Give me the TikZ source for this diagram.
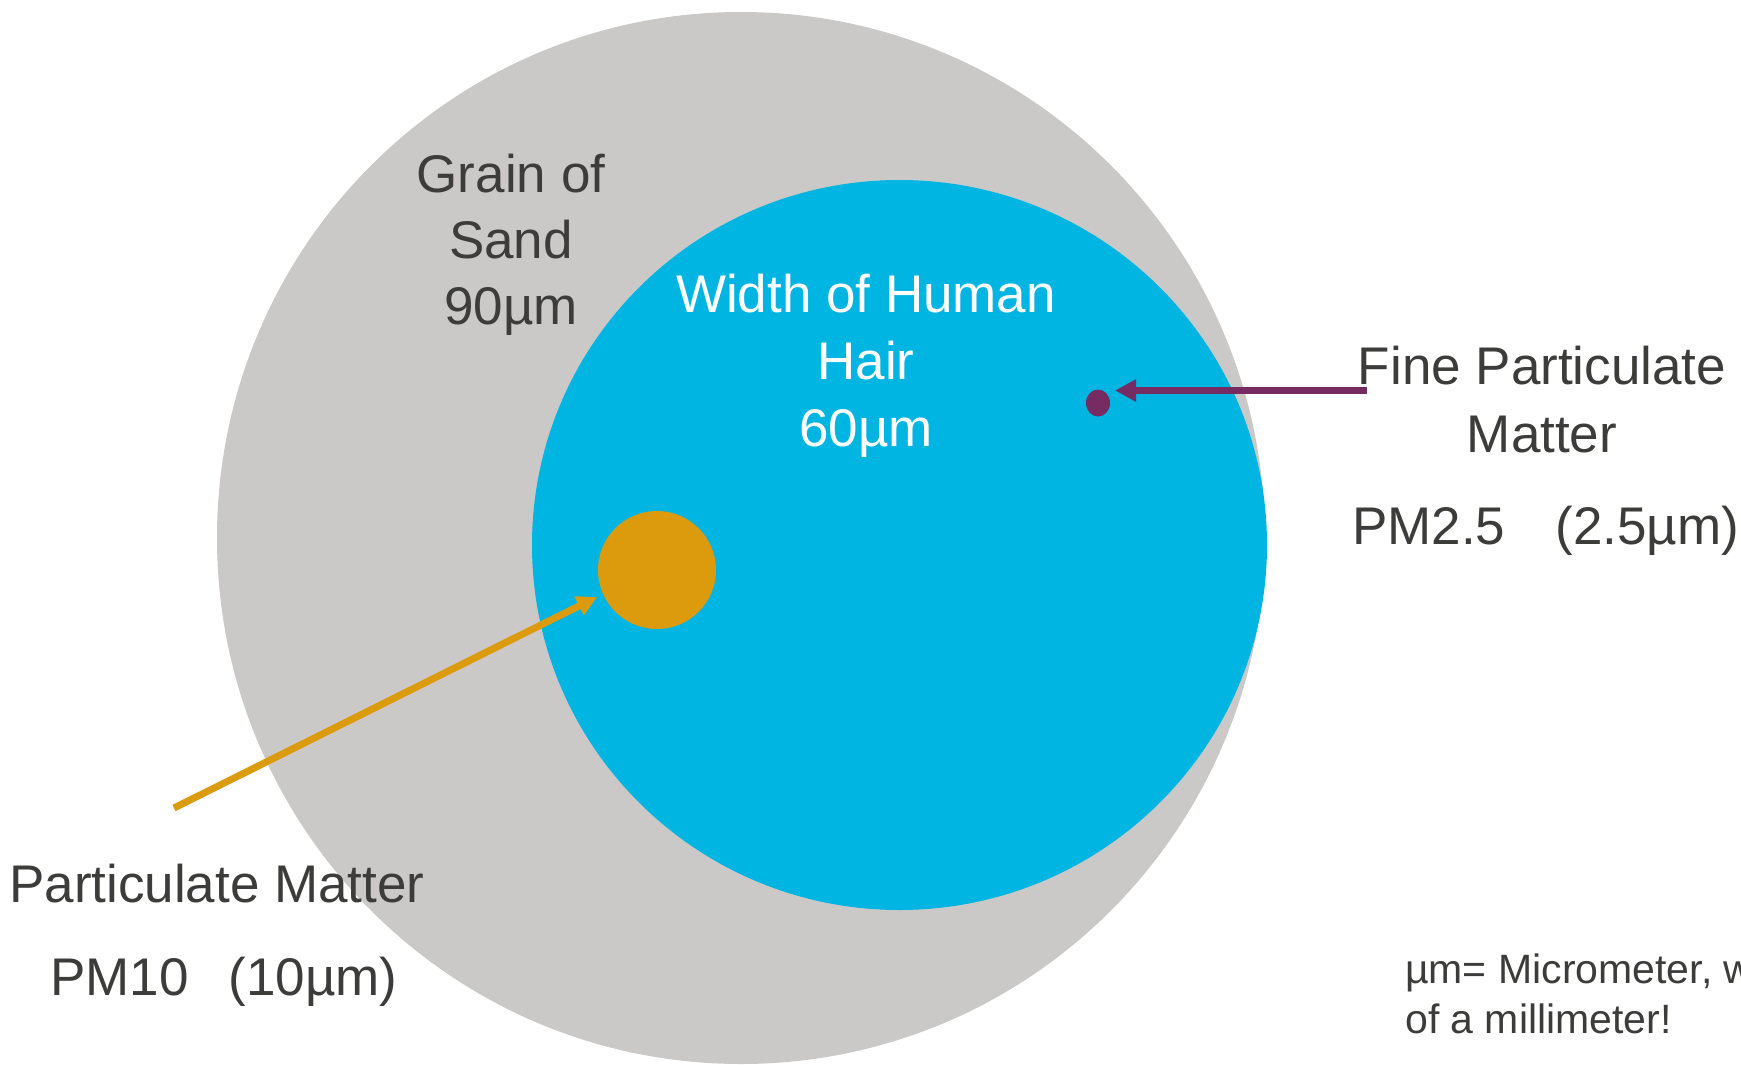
\documentclass[tikz,border=0pt]{standalone}
\usepackage{fontspec}
\setmainfont{Liberation Sans}
\usetikzlibrary{arrows.meta,shapes.geometric}
\definecolor{sandgrey}{HTML}{CAC9C8}
\definecolor{hairblue}{HTML}{00B5E2}
\definecolor{pmorange}{HTML}{DB9B0C}
\definecolor{pmpurple}{HTML}{772B63}
\definecolor{txtdark}{HTML}{3C3C3B}
\tikzset{
  blob/.style={ellipse, inner sep=0pt, draw=none},
  bigtxt/.style={inner sep=0pt, anchor=base, text=txtdark, font=\fontsize{53}{66}\selectfont},
  bigtxtw/.style={bigtxt, text=white},
  bigtxtl/.style={bigtxt, anchor=base west},
  smalltxt/.style={inner sep=0pt, anchor=base west, text=txtdark, font=\fontsize{41}{40}\selectfont},
  pointer/.style={line width=7pt}
}
\begin{document}
\begin{tikzpicture}[x=1pt,y=-1pt]
\useasboundingbox (0,0) rectangle (1741,1065);
% circles
\node[blob, fill=sandgrey, minimum width=1048pt, minimum height=1052pt] (sand) at (741,538) {};
\node[blob, fill=hairblue, minimum width=735pt, minimum height=730pt] (hair) at (899.5,545) {};
\node[blob, fill=pmorange, minimum width=118pt, minimum height=118pt] (pmten) at (657,570) {};
\node[blob, fill=pmpurple, minimum width=24pt, minimum height=27pt] (pmfine) at (1098,403) {};
% texts
\node[bigtxt] (grainA) at (511,192) {Grain of};
\node[bigtxt] (grainB) at (511,258) {Sand};
\node[bigtxt] (grainC) at (511,324) {90µm};
\node[bigtxtw] (hairA) at (866,312) {Width of Human};
\node[bigtxtw] (hairB) at (866,379) {Hair};
\node[bigtxtw] (hairC) at (866,446) {60µm};
\node[bigtxt] (fineA) at (1542,384) {Fine Particulate};
\node[bigtxt] (fineB) at (1542,452) {Matter};
\node[bigtxtl] (fineC) at (1352,544) {PM2.5\hspace{50pt}(2.5µm)};
\node[bigtxtl] (coarseA) at (9,902) {Particulate Matter};
\node[bigtxtl] (coarseB) at (50,995) {PM10\hspace{40pt}(10µm)};
\node[smalltxt] (noteA) at (1405,983) {µm= Micrometer, which};
\node[smalltxt] (noteB) at (1405,1033) {of a millimeter!};
% arrows
\coordinate (pstart) at (1367,390.5);
\coordinate (ptip) at (1115,390.5);
\draw[pointer, draw=pmpurple, -{Triangle[length=21pt,width=21pt]}] (pstart) -- (ptip);
\coordinate (ostart) at (174,808);
\coordinate (otip) at (597,597);
\draw[pointer, draw=pmorange, -{Triangle[length=20pt,width=20pt]}] (ostart) -- (otip);
\end{tikzpicture}
\end{document}
